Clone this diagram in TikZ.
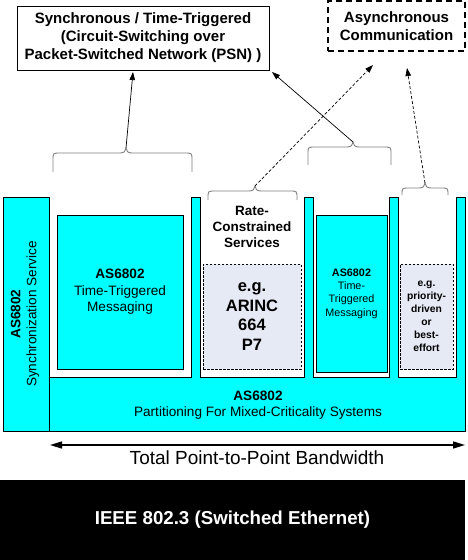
\documentclass[tikz,border=0pt]{standalone}
\usepackage{fontspec}
\setmainfont{Liberation Sans}
\usetikzlibrary{arrows.meta}
\definecolor{cy}{RGB}{0,255,255}
\definecolor{pale}{RGB}{230,234,245}
\definecolor{bracegray}{RGB}{128,128,128}
\newcommand{\fs}[2]{\fontsize{#1}{#2}\selectfont}
\newcommand{\mybrace}[5]{%
  \draw[bracestyle] (#1,#4) -- (#1,#3+7) .. controls (#1,#3) .. (#1+7,#3) -- (#5-6,#3)
    .. controls (#5-2,#3) and (#5,#3-2) .. (#5,#3-5)
    .. controls (#5,#3-2) and (#5+2,#3) .. (#5+6,#3) -- (#2-7,#3)
    .. controls (#2,#3) .. (#2,#3+7) -- (#2,#4);}
\begin{document}
\begin{tikzpicture}[x=1pt,y=-1pt,
  txt/.style={align=center,inner sep=0pt},
  topbox/.style={draw=black,line width=0.8pt,fill=white,inner sep=0pt},
  ttbox/.style={draw=black,line width=0.8pt,fill=cy,inner sep=0pt,align=center},
  palebox/.style={draw=black,dash pattern=on 2.5pt off 1.5pt,line width=0.6pt,fill=pale,inner sep=0pt,align=center},
  bracestyle/.style={draw=bracegray,line width=0.9pt},
  link/.style={draw=black,line width=0.7pt,-{Triangle[length=8pt,width=5.5pt]}},
  dlink/.style={link,dash pattern=on 3pt off 2pt}]
\useasboundingbox (0,0) rectangle (467,560);

% top boxes
\node[topbox,minimum width=252pt,minimum height=64pt,align=center,font=\bfseries\fs{15}{18}] (sync) at (143,38)
  {Synchronous / Time-Triggered\\(Circuit-Switching over\\Packet-Switched Network (PSN) )};
\node[topbox,draw=black,line width=2pt,dash pattern=on 6pt off 4pt,minimum width=137pt,minimum height=50pt,align=center,font=\bfseries\fs{15}{18}] (async) at (396.5,26)
  {Asynchronous\\Communication};

% cyan comb
\path[fill=cy,draw=black,line width=0.8pt] (3,197) -- (49,197) -- (49,377) -- (191,377) -- (191,197) -- (200,197) -- (200,377)
  -- (304,377) -- (304,197) -- (313,197) -- (313,377) -- (389,377) -- (389,197) -- (398,197) -- (398,377)
  -- (456,377) -- (456,197) -- (465,197) -- (465,431) -- (3,431) -- cycle;
\draw[black,line width=0.8pt] (49,377) -- (49,431);

\node[txt,rotate=90,font=\fs{13.6}{16}] (syncsvc) at (25,314) {\textbf{AS6802}\\Synchronization Service};
\node[txt,font=\fs{13.6}{16}] (part) at (258,405) {\textbf{AS6802}\\Partitioning For Mixed-Criticality Systems};

\node[ttbox,minimum width=126pt,minimum height=154pt,font=\fs{13.6}{16.5}] (tt1) at (120,292) {\textbf{AS6802}\\Time-Triggered\\Messaging};
\node[ttbox,minimum width=71pt,minimum height=157pt,font=\fs{10.8}{13.3}] (tt2) at (351.5,293.5) {\textbf{AS6802}\\Time-\\Triggered\\Messaging};

\node[txt,font=\bfseries\fs{13.5}{16}] (rclabel) at (252,227) {Rate-\\Constrained\\Services};
\node[palebox,minimum width=98pt,minimum height=105pt,font=\bfseries\fs{16.5}{19.7}] (rc) at (252,316.5) {e.g.\\ARINC\\664\\P7};
\node[palebox,minimum width=53pt,minimum height=105pt,font=\bfseries\fs{10.3}{13}] (be) at (426.5,316.5) {e.g.\\priority-\\driven\\or\\best-\\effort};

% braces
\mybrace{53}{192}{153}{172}{126}
\mybrace{208}{297}{191}{200}{255}
\mybrace{308}{391}{147}{165}{353}
\mybrace{402}{448}{188}{195}{425}

\coordinate (b1) at (126,148);
\coordinate (b2) at (255,186);
\coordinate (b3) at (353,142);
\coordinate (b4) at (425,183);
\coordinate (e1) at (133,72);
\coordinate (e2) at (272,72);
\coordinate (e3) at (373,65);
\coordinate (e4) at (407,68);
\draw[link] (b1) -- (e1);
\draw[link] (b3) -- (e2);
\draw[dlink] (b2) -- (e3);
\draw[dlink] (b4) -- (e4);

% bandwidth
\coordinate (bwl) at (50,445);
\coordinate (bwr) at (465,445);
\draw[line width=1.5pt,{Triangle[length=12pt,width=7pt]}-{Triangle[length=12pt,width=7pt]}] (bwl) -- (bwr);
\node[txt,font=\fs{19}{22}] (bw) at (257,458) {Total Point-to-Point Bandwidth};

% ethernet
\node[fill=black,minimum width=465pt,minimum height=80pt,inner sep=0pt,text=white,font=\bfseries\fs{18.7}{22}] (eth) at (232.5,520) {IEEE 802.3 (Switched Ethernet)};
\end{tikzpicture}
\end{document}
